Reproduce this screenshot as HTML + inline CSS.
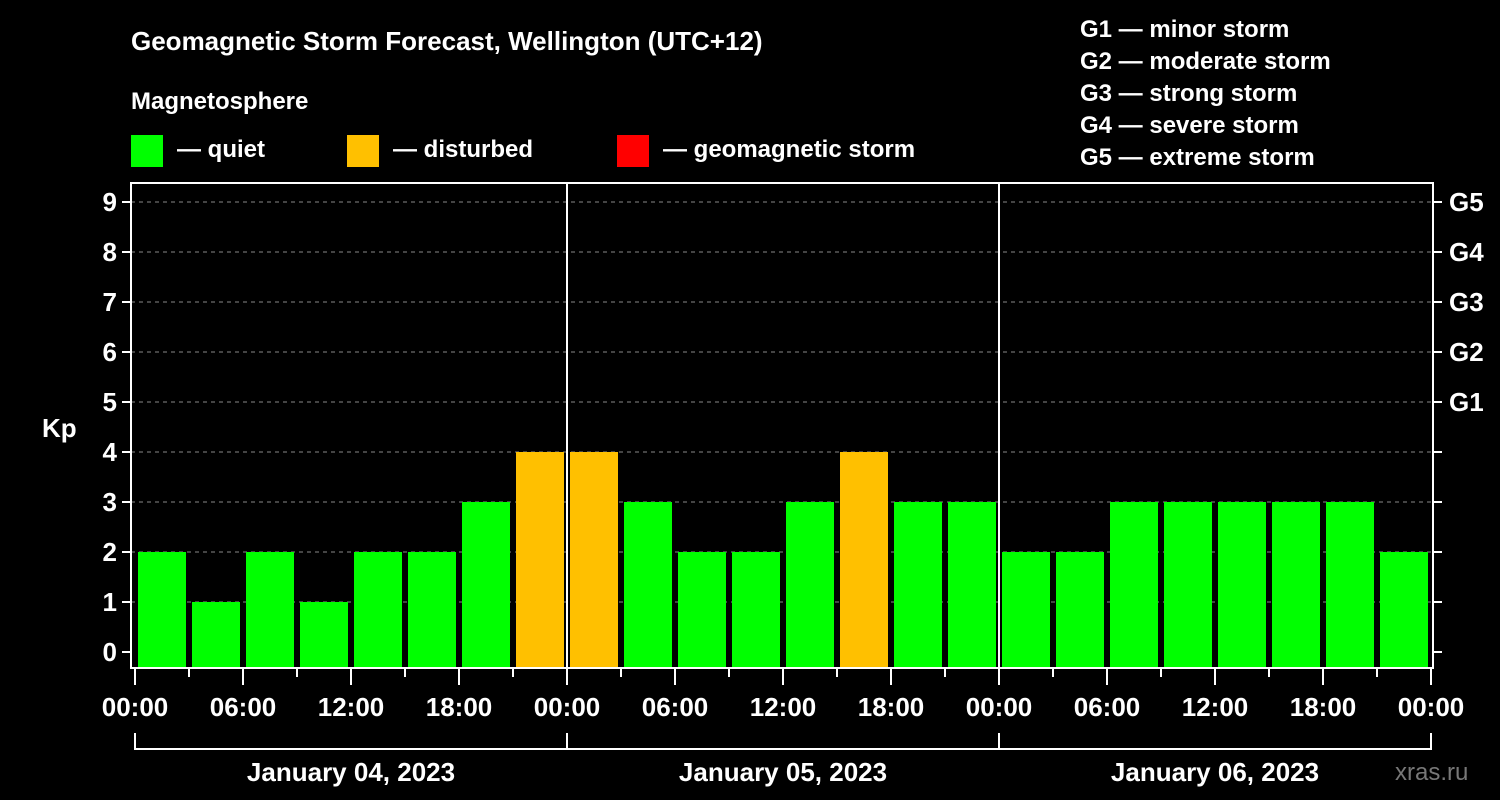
<!DOCTYPE html>
<html><head><meta charset="utf-8"><style>
html,body{margin:0;padding:0;background:#000;width:1500px;height:800px;overflow:hidden}
text{font-family:"Liberation Sans",Arial,sans-serif;font-weight:bold;fill:#fff}
</style></head><body>
<svg id="chart" width="1500" height="800" xmlns="http://www.w3.org/2000/svg">
<text x="131" y="50" font-size="26">Geomagnetic Storm Forecast, Wellington (UTC+12)</text>
<text x="131" y="109" font-size="24">Magnetosphere</text>
<rect x="131" y="135" width="32" height="32" fill="#00ff00"/>
<text x="177" y="157" font-size="24">— quiet</text>
<rect x="347" y="135" width="32" height="32" fill="#ffc000"/>
<text x="393" y="157" font-size="24">— disturbed</text>
<rect x="617" y="135" width="32" height="32" fill="#ff0000"/>
<text x="663" y="157" font-size="24">— geomagnetic storm</text>
<g font-size="24">
<text x="1080" y="37">G1 — minor storm</text>
<text x="1080" y="69">G2 — moderate storm</text>
<text x="1080" y="101">G3 — strong storm</text>
<text x="1080" y="133">G4 — severe storm</text>
<text x="1080" y="165">G5 — extreme storm</text>
</g>
<text x="42" y="437" font-size="26">Kp</text>
<text x="1395" y="780" font-size="24" fill="#777" style="fill:#777;font-weight:normal">xras.ru</text>
<g id="plot"></g>
</svg>
<script>
const kpValues = [2,1,2,1,2,2,3,4, 4,3,2,2,3,4,3,3, 2,2,3,3,3,3,3,2];
const yTicks = [0,1,2,3,4,5,6,7,8,9];
const gLabels = ["G1","G2","G3","G4","G5"];
const dayLabels = ["January 04, 2023","January 05, 2023","January 06, 2023"];
const hourLabels = ["00:00","06:00","12:00","18:00"];

const NS="http://www.w3.org/2000/svg";
const g=document.getElementById('plot');
const L=131,R=1433,T=183,B=668,X0=135,HOURPX=18;
const y=v=>652-v*50;
const x=h=>X0+h*HOURPX;
function el(t,a){const e=document.createElementNS(NS,t);for(const k in a)e.setAttribute(k,a[k]);g.appendChild(e);return e;}
yTicks.forEach(v=>{
  if(v>0){const l=el('line',{x1:L,x2:R,y1:y(v),y2:y(v),stroke:'#888','stroke-dasharray':'4,4','stroke-width':1});
  
  }
  const t=el('line',{x1:L-9,x2:L,y1:y(v),y2:y(v),stroke:'#fff','stroke-width':2});
  
  
  const t2=el('line',{x1:R,x2:R+9,y1:y(v),y2:y(v),stroke:'#fff','stroke-width':2});
  
  
  const lb=el('text',{x:L-14,y:y(v)+9,'font-size':26,'text-anchor':'end'});lb.textContent=v;
  
  
});
gLabels.forEach((s,i)=>{
  const lb=el('text',{x:R+16,y:y(5+i)+9,'font-size':26});lb.textContent=s;
  
  
});
kpValues.forEach((v,i)=>{
  const c=v>=5?'#ff0000':(v>=4?'#ffc000':'#00ff00');
  const r=el('rect',{x:x(i*3)+3,y:y(v),width:48,height:B-y(v),fill:c});
  
  
});
const frame=el('rect',{x:L,y:T,width:R-L,height:B-T,fill:'none',stroke:'#fff','stroke-width':2});


for(let d=1;d<dayLabels.length;d++){
  const s=el('line',{x1:x(d*24),x2:x(d*24),y1:T,y2:B,stroke:'#fff','stroke-width':2});
  
  
}
for(let h=0;h<=72;h+=3){
  const tk=el('line',{x1:x(h),x2:x(h),y1:B,y2:h%6==0?B+17:B+9,stroke:'#fff','stroke-width':2});
  
  
  if(h%6==0){
    const lb=el('text',{x:x(h),y:716,'font-size':26,'text-anchor':'middle'});lb.textContent=hourLabels[(h/6)%4];
    
    
  }
}
const br=el('line',{x1:x(0),x2:x(72),y1:749,y2:749,stroke:'#fff','stroke-width':2});


for(let d=0;d<=dayLabels.length;d++){
  const v=el('line',{x1:x(d*24),x2:x(d*24),y1:733,y2:750,stroke:'#fff','stroke-width':2});
  
  
}
dayLabels.forEach((s,d)=>{
  const lb=el('text',{x:x(d*24+12),y:781,'font-size':26,'text-anchor':'middle'});lb.textContent=s;
  
  
});
</script>
</body></html>
